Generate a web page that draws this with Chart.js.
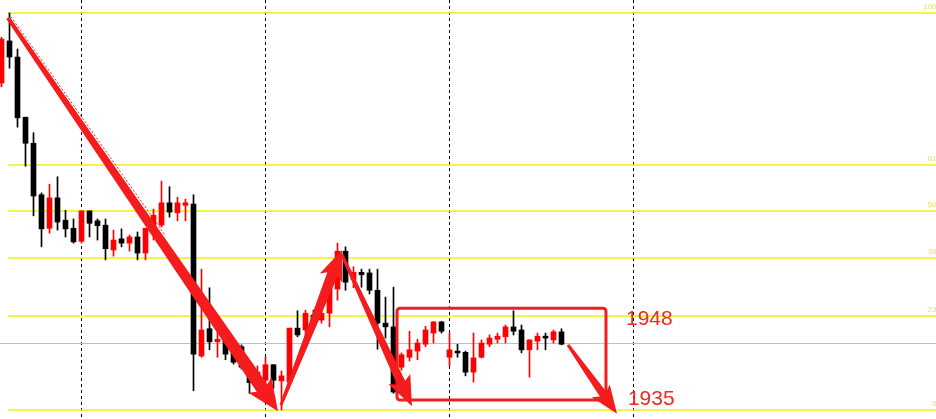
<!DOCTYPE html>
<html>
<head>
<meta charset="utf-8">
<script src="https://cdn.jsdelivr.net/npm/chart.js@4.4.1/dist/chart.umd.min.js"></script>
<style>
  html, body { margin: 0; padding: 0; background: #ffffff; overflow: hidden; }
  #wrap { width: 936px; height: 419px; }
</style>
</head>
<body>
<div id="wrap"><canvas id="c" width="936" height="419"></canvas></div>
<script>
// ---- candle data (price units) ----
const opens = [
  1985.7,1992.5,1989.9,1980.2,1976.0,1967.7,1962.3,1967.2,1963.6,1962.3,
  1960.2,1965.1,1963.5,1962.8,1958.8,1960.6,1959.9,1960.9,1958.3,1962.0,
  1962.8,1966.4,1964.8,1966.0,1966.2,1941.7,1946.1,1944.0,1944.8,1943.8,
  1943.2,1939.0,1938.5,1937.8,1940.3,1937.7,1937.5,1946.2,1945.9,1948.3,
  1947.5,1948.6,1952.5,1958.6,1954.0,1955.2,1955.1,1952.3,1947.0,1946.4,
  1939.9,1941.5,1942.5,1943.6,1945.4,1947.2,1941.5,1942.5,1942.3,1939.1,
  1941.5,1943.6,1944.4,1944.8,1946.4,1945.9,1942.7,1944.1,1944.9,1944.3,1945.6
];
const highs = [
  1993.1,1997.0,1991.2,1980.2,1977.7,1968.0,1969.4,1970.6,1965.2,1963.8,
  1965.1,1965.1,1963.8,1963.8,1962.0,1962.2,1961.2,1961.7,1962.3,1965.4,
  1969.9,1969.0,1967.3,1967.0,1967.7,1955.7,1952.7,1945.9,1946.4,1944.3,
  1943.5,1939.9,1940.1,1941.5,1940.3,1939.3,1946.2,1949.0,1949.1,1949.1,
  1949.6,1953.0,1959.9,1959.3,1956.1,1955.7,1955.7,1955.7,1951.2,1952.8,
  1942.2,1945.7,1944.4,1946.5,1947.3,1947.3,1945.4,1943.6,1942.5,1945.4,
  1944.3,1945.1,1945.4,1946.7,1949.0,1946.7,1944.3,1945.4,1945.4,1945.9,1946.1
];
const lows = [
  1985.1,1988.1,1978.6,1972.3,1964.3,1959.3,1961.5,1962.0,1960.9,1959.9,
  1959.9,1960.9,1960.4,1957.2,1957.8,1959.3,1958.6,1957.2,1957.2,1960.4,
  1962.5,1964.1,1963.5,1963.5,1936.1,1941.5,1942.7,1941.5,1941.1,1940.4,
  1939.6,1935.7,1937.0,1937.0,1936.5,1933.0,1937.4,1944.8,1944.8,1947.0,
  1947.0,1946.4,1950.7,1952.3,1952.7,1952.8,1951.7,1942.8,1944.6,1935.7,
  1939.4,1940.9,1941.1,1943.2,1943.8,1945.4,1940.1,1941.5,1938.5,1937.5,
  1941.4,1943.2,1943.8,1943.8,1945.1,1942.2,1938.3,1942.7,1942.7,1943.8,1943.5
];
const closes = [
  1992.8,1989.9,1980.1,1976.0,1967.5,1962.2,1967.2,1963.3,1962.2,1960.1,
  1965.1,1963.1,1962.7,1959.0,1960.4,1959.9,1960.9,1958.3,1962.3,1964.4,
  1966.4,1964.9,1966.4,1966.4,1942.0,1945.9,1944.0,1944.4,1942.0,1940.7,
  1939.9,1937.4,1939.1,1940.3,1937.8,1938.5,1946.2,1945.1,1948.6,1947.5,
  1948.6,1953.0,1958.6,1953.6,1955.2,1954.8,1952.3,1947.0,1946.4,1935.9,
  1941.9,1942.7,1943.8,1945.9,1947.2,1945.7,1942.7,1942.2,1939.1,1941.4,
  1943.8,1944.6,1944.9,1946.4,1945.7,1942.7,1944.3,1944.9,1944.6,1945.6,1943.6
];

// Fibonacci retracement (0% = 1933, 100% = 1997)
const fibLow = 1933, fibHigh = 1997;
const fibRatios = [1.0, 0.618, 0.5, 0.382, 0.236, 0.0];
const fibLabels = ["100.0", "61.8", "50.0", "38.2", "23.6", "0.0"];
const fibStartIndex = 0.8;

const currentPrice = 1943.8;           // grey price line
const separatorIndices = [10, 33, 56, 79]; // dashed vertical separators

// annotation (index, price)
const trendArrows = [
  { from: [0.81, 1996.2], to: [34.56, 1932.8], w0: 4, w1: 13, hw: 28, hl: 28 },
  { from: [34.94, 1933.8], to: [42.56, 1958.8], w0: 3, w1: 11, hw: 24, hl: 26 },
  { from: [42.56, 1958.0], to: [51.31, 1933.6], w0: 3, w1: 9, hw: 24, hl: 26 },
  { from: [70.81, 1943.5], to: [76.94, 1932.4], w0: 3, w1: 8, hw: 22, hl: 24 }
];
const dottedTrend = { from: [1.19, 1996.4], to: [20.44, 1961.2] };
const rangeBox = { x0: 49.44, x1: 75.56, top: 1949.4, bottom: 1934.6 };
const levelTexts = [
  { text: "1948", index: 78.06, price: 1948.0 },
  { text: "1935", index: 78.3, price: 1935.0 }
];

const idx = opens.map((_, i) => i);
const RED = '#ff0000', BLACK = '#000000';
const colors = idx.map(i => closes[i] >= opens[i] ? RED : BLACK);

const xMin = -0.1875, xMax = 116.8125;
const yMax = 1933 + 410 * 64 / 397;
const yMin = 1933 - 9 * 64 / 397;

function drawArrow(ctx, x1, y1, x2, y2, w0, w1, hw, hl) {
  const dx = x2 - x1, dy = y2 - y1, L = Math.hypot(dx, dy);
  const ux = dx / L, uy = dy / L, nx = -uy, ny = ux;
  const bx = x2 - ux * hl, by = y2 - uy * hl;
  ctx.beginPath();
  ctx.moveTo(x1 + nx * w0 / 2, y1 + ny * w0 / 2);
  ctx.lineTo(bx + nx * w1 / 2, by + ny * w1 / 2);
  ctx.lineTo(bx + nx * hw / 2 - ux * 4, by + ny * hw / 2 - uy * 4);
  ctx.lineTo(x2, y2);
  ctx.lineTo(bx - nx * hw / 2 - ux * 4, by - ny * hw / 2 - uy * 4);
  ctx.lineTo(bx - nx * w1 / 2, by - ny * w1 / 2);
  ctx.lineTo(x1 - nx * w0 / 2, y1 - ny * w0 / 2);
  ctx.closePath();
  ctx.fill();
}

const decor = {
  id: 'decor',
  beforeDraw(chart) {
    const ctx = chart.ctx;
    ctx.save();
    ctx.fillStyle = '#ffffff';
    ctx.fillRect(0, 0, chart.width, chart.height);
    ctx.restore();
  },
  beforeDatasetsDraw(chart) {
    const ctx = chart.ctx, xs = chart.scales.x, ys = chart.scales.y;
    ctx.save();
    // separators
    ctx.strokeStyle = '#000000';
    ctx.lineWidth = 1;
    ctx.setLineDash([3, 3]);
    separatorIndices.forEach(v => {
      const px = Math.floor(xs.getPixelForValue(v)) + 0.5;
      ctx.beginPath();
      ctx.moveTo(px, 0);
      ctx.lineTo(px, chart.height);
      ctx.stroke();
    });
    ctx.setLineDash([]);
    // grey price line
    const gy = Math.round(ys.getPixelForValue(currentPrice)) + 0.5;
    ctx.strokeStyle = '#c0c0c0';
    ctx.beginPath();
    ctx.moveTo(0, gy);
    ctx.lineTo(chart.width, gy);
    ctx.stroke();
    // fib levels
    const fx = xs.getPixelForValue(fibStartIndex);
    ctx.font = '8px "Liberation Sans", Arial, sans-serif';
    ctx.textAlign = 'right';
    ctx.textBaseline = 'bottom';
    fibRatios.forEach((r, k) => {
      const price = fibLow + r * (fibHigh - fibLow);
      const py = Math.round(ys.getPixelForValue(price));
      ctx.strokeStyle = 'rgba(238,238,0,0.95)';
      ctx.lineWidth = 1.6;
      ctx.beginPath();
      ctx.moveTo(fx, py);
      ctx.lineTo(chart.width, py);
      ctx.stroke();
      ctx.fillStyle = '#e4e070';
      ctx.fillText(fibLabels[k], 943, py - 2);
    });
    ctx.restore();
  },
  afterDatasetsDraw(chart) {
    const ctx = chart.ctx, xs = chart.scales.x, ys = chart.scales.y;
    const P = (a) => [xs.getPixelForValue(a[0]), ys.getPixelForValue(a[1])];
    ctx.save();
    // dotted trend line
    const d0 = P(dottedTrend.from), d1 = P(dottedTrend.to);
    ctx.strokeStyle = '#f02020';
    ctx.lineWidth = 1;
    ctx.setLineDash([2, 2]);
    ctx.beginPath();
    ctx.moveTo(d0[0], d0[1]);
    ctx.lineTo(d1[0], d1[1]);
    ctx.stroke();
    ctx.setLineDash([]);
    // box
    const bx0 = xs.getPixelForValue(rangeBox.x0), bx1 = xs.getPixelForValue(rangeBox.x1);
    const by0 = ys.getPixelForValue(rangeBox.top), by1 = ys.getPixelForValue(rangeBox.bottom);
    ctx.strokeStyle = '#f01e1e';
    ctx.lineWidth = 3;
    ctx.beginPath();
    if (ctx.roundRect) ctx.roundRect(bx0, by0, bx1 - bx0, by1 - by0, 3);
    else ctx.rect(bx0, by0, bx1 - bx0, by1 - by0);
    ctx.stroke();
    // arrows
    ctx.fillStyle = '#f41c1c';
    trendArrows.forEach(a => {
      const s = P(a.from), e = P(a.to);
      drawArrow(ctx, s[0], s[1], e[0], e[1], a.w0, a.w1, a.hw, a.hl);
    });
    // level texts
    ctx.fillStyle = '#f0281e';
    ctx.font = '21px "Liberation Sans", Arial, sans-serif';
    ctx.textAlign = 'left';
    ctx.textBaseline = 'middle';
    levelTexts.forEach(t => {
      ctx.fillText(t.text, xs.getPixelForValue(t.index), ys.getPixelForValue(t.price) + 2);
    });
    ctx.restore();
  }
};

new Chart(document.getElementById('c'), {
  type: 'bar',
  data: {
    datasets: [
      {
        label: 'body',
        data: idx.map(i => ({ x: i, y: [Math.min(opens[i], closes[i]), Math.max(opens[i], closes[i])] })),
        backgroundColor: colors,
        barThickness: 5,
        minBarLength: 1,
        grouped: false,
        borderWidth: 0
      },
      {
        label: 'wick',
        data: idx.map(i => ({ x: i, y: [lows[i], highs[i]] })),
        backgroundColor: colors,
        barThickness: 1,
        minBarLength: 1,
        grouped: false,
        borderWidth: 0
      }
    ]
  },
  options: {
    responsive: false,
    devicePixelRatio: 1,
    animation: false,
    layout: { padding: 0 },
    plugins: { legend: { display: false }, tooltip: { enabled: false } },
    scales: {
      x: { type: 'linear', min: xMin, max: xMax, display: false, offset: false },
      y: { min: yMin, max: yMax, display: false }
    }
  },
  plugins: [decor]
});
</script>
</body>
</html>
